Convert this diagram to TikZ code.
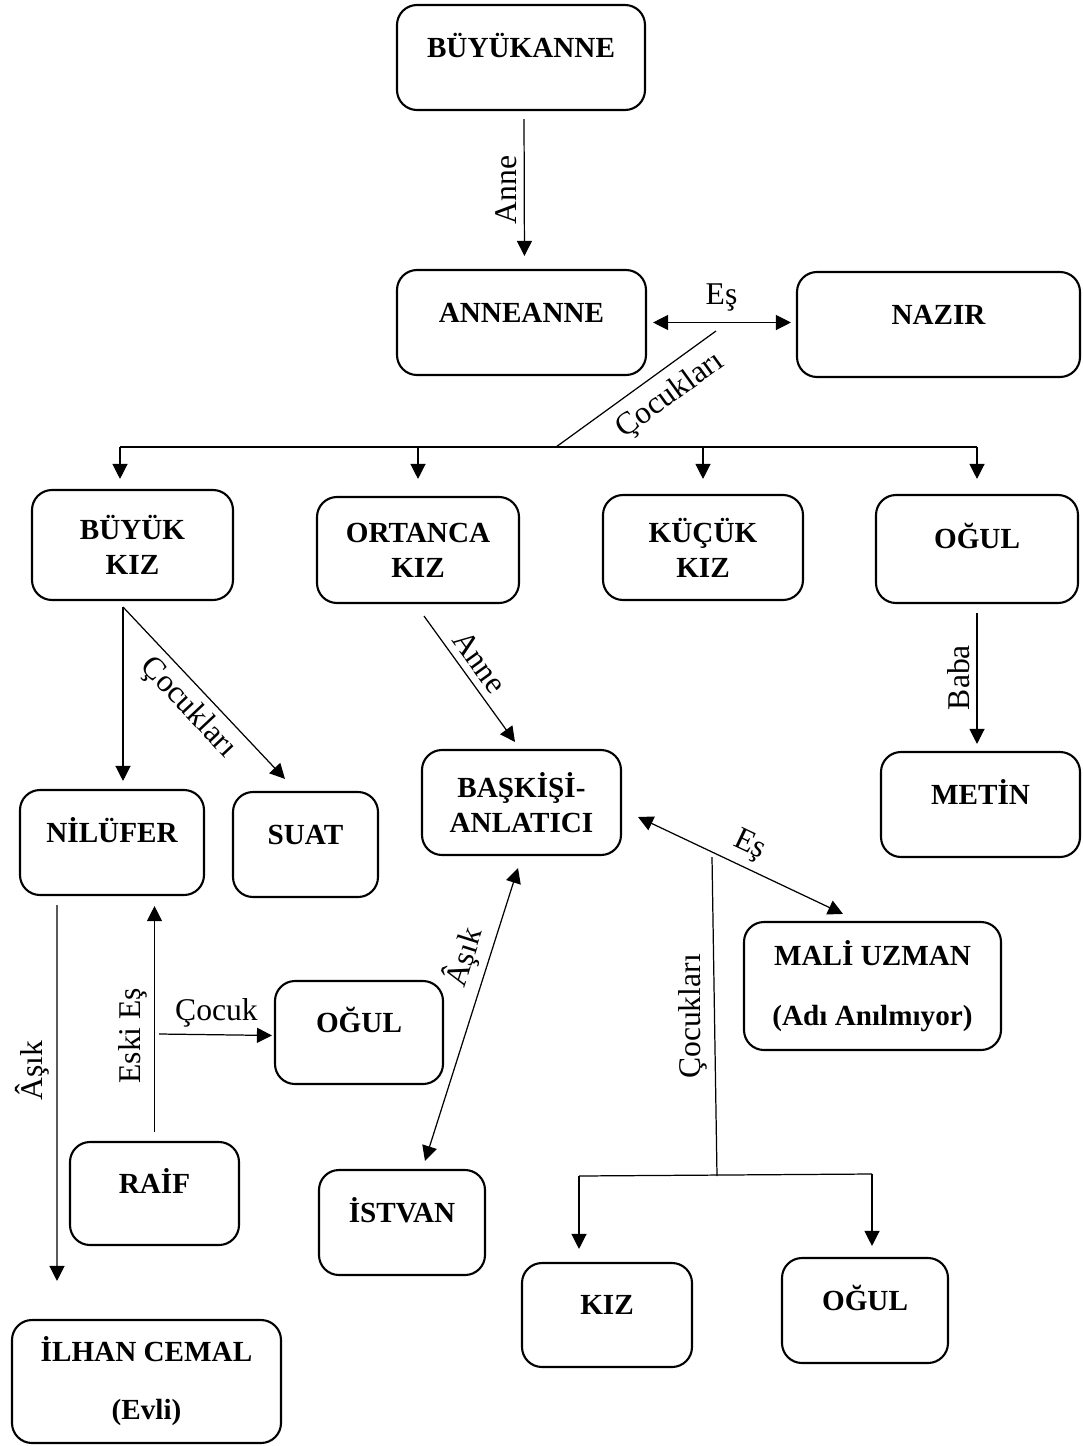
\documentclass[tikz,border=0pt]{standalone}
\usepackage{fontspec}
\setmainfont{Liberation Serif}
\usetikzlibrary{arrows.meta}

\begin{document}
\begin{tikzpicture}[
		box/.style={draw, line width=0.6pt, rounded corners=0.2cm, align=center, inner sep=0pt, font=\fontsize{8.3}{10}\selectfont\bfseries},
		top/.style={text height=1.9mm, text depth=2mm},
		rel/.style={line width=0.35pt},
		arr/.style={rel, -{Triangle[length=1.5mm,width=1.5mm]}},
		arrs/.style={rel, {Triangle[length=1.5mm,width=1.5mm]}-{Triangle[length=1.5mm,width=1.5mm]}},
		lbl/.style={font=\fontsize{9}{11}\selectfont, inner sep=2pt}]
		\useasboundingbox (0,0) rectangle (10.83,-14.46);
		
		\node[box, top, minimum width=2.48cm, minimum height=1.05cm] (1) at (5.21,-0.575) {BÜYÜKANNE};
		\node[box, top, minimum width=2.49cm, minimum height=1.05cm] (2) at (5.215,-3.225) {ANNEANNE};
		\node[box, top, minimum width=2.83cm, minimum height=1.05cm] (3) at (9.385,-3.245) {NAZIR};
		\node[box, minimum width=2.01cm, minimum height=1.10cm] (4) at (1.325,-5.45) {BÜYÜK\\KIZ};
		\node[box, minimum width=2.02cm, minimum height=1.06cm] (5) at (4.18,-5.50) {ORTANCA\\KIZ};
		\node[box, minimum width=2.00cm, minimum height=1.05cm] (6) at (7.03,-5.475) {KÜÇÜK\\KIZ};
		\node[box, top, minimum width=2.02cm, minimum height=1.08cm] (7) at (9.77,-5.49) {OĞUL};
		\node[box, top, minimum width=1.84cm, minimum height=1.05cm] (8) at (1.12,-8.425) {NİLÜFER};
		\node[box, top, minimum width=1.45cm, minimum height=1.05cm] (9) at (3.055,-8.445) {SUAT};
		\node[box, minimum width=1.99cm, minimum height=1.05cm] (10) at (5.215,-8.025) {BAŞKİŞİ-\\ANLATICI};
		\node[box, top, minimum width=1.99cm, minimum height=1.05cm] (11) at (9.805,-8.045) {METİN};
		\node[box, minimum width=2.57cm, minimum height=1.28cm] (12) at (8.725,-9.86) {MALİ UZMAN\\[2.47mm](Adı Anılmıyor)};
		\node[box, top, minimum width=1.68cm, minimum height=1.03cm] (13) at (3.59,-10.325) {OĞUL};
		\node[box, top, minimum width=1.69cm, minimum height=1.03cm] (14) at (1.545,-11.935) {RAİF};
		\node[box, top, minimum width=1.66cm, minimum height=1.05cm] (15) at (4.02,-12.225) {İSTVAN};
		\node[box, top, minimum width=1.70cm, minimum height=1.04cm] (16) at (6.07,-13.15) {KIZ};
		\node[box, top, minimum width=1.66cm, minimum height=1.05cm] (17) at (8.65,-13.105) {OĞUL};
		\node[box, minimum width=2.69cm, minimum height=1.23cm] (18) at (1.465,-13.815) {İLHAN CEMAL\\[2.27mm](Evli)};
		
		\coordinate (es1) at (7.16,-3.31);
		\coordinate (bus) at (5.56,-4.47);
		\coordinate (busL) at (1.20,-4.47);
		\coordinate (busR) at (9.77,-4.47);
		\coordinate (bk0) at (1.23,-6.07);
		\coordinate (es2) at (7.12,-8.57);
		\coordinate (bus2) at (7.17,-11.76);
		\coordinate (bus2L) at (5.79,-11.76);
		\coordinate (bus2R) at (8.72,-11.74);
		\coordinate (ch) at (1.59,-10.34);
		
		\draw[arr, shorten <=0.08cm, shorten >=0.13cm] ([xshift=0.03cm]1.south) to node[lbl, rotate=90, anchor=south] {Anne} ([xshift=0.03cm]2.north);
		\draw[arrs, shorten <=0.06cm, shorten >=0.05cm] (2.east) to node[lbl, above=1pt] {Eş} (2.east -| 3.west);
		\draw[rel] (bus) to node[lbl, sloped, below=1pt, pos=0.62] {Çocukları} (es1);
		\draw[rel] (busL) to (busR);
		\draw[arr, shorten >=0.1cm] (busL) to (busL |- 4.north);
		\draw[arr, shorten >=0.17cm] (5.north |- busL) to (5.north);
		\draw[arr, shorten >=0.15cm] (6.north |- busL) to (6.north);
		\draw[arr, shorten >=0.15cm] (busR) to (7.north);
		
		\draw[arr, shorten >=0.08cm] (bk0) to (bk0 |- 8.north);
		\draw[arr] (bk0) to node[lbl, sloped, below] {Çocukları} ([xshift=-0.205cm,yshift=0.12cm]9.north);
		\draw[arr] ([xshift=0.06cm,yshift=-0.12cm]5.south) to node[lbl, sloped, above, pos=0.45] {Anne} ([xshift=-0.065cm,yshift=0.07cm]10.north);
		\draw[arr, shorten <=0.09cm, shorten >=0.07cm] (7.south) to node[lbl, rotate=90, anchor=south] {Baba} (7.south |- 11.north);
		
		\draw[arrs] ([xshift=0.16cm,yshift=-0.145cm]10.east) to node[lbl, sloped, above] {Eş} ([xshift=-0.295cm,yshift=0.07cm]12.north);
		\draw[rel] (es2) to node[lbl, rotate=90, anchor=south] {Çocukları} (bus2);
		\draw[rel] (bus2L) to (bus2R);
		\draw[arr, shorten >=0.13cm] (bus2L) to (bus2L |- 16.north);
		\draw[arr, shorten >=0.11cm] (bus2R) to (bus2R |- 17.north);
		\draw[arrs] ([xshift=0.23cm,yshift=0.08cm]15.north) to node[lbl, sloped, above, pos=0.67] {Âşık} ([xshift=-0.035cm,yshift=-0.12cm]10.south);
		
		\draw[arr] ([xshift=-0.55cm,yshift=-0.09cm]8.south) to node[lbl, rotate=90, anchor=south, pos=0.44] {Âşık} ([xshift=-0.895cm,yshift=0.38cm]18.north);
		\draw[arr, shorten <=0.09cm, shorten >=0.1cm] (14.north) to node[lbl, rotate=90, anchor=south, pos=0.43] {Eski Eş} (14.north |- 8.south);
		\draw[arr, shorten >=0.02cm] (ch) to node[lbl, above] {Çocuk} ([yshift=-0.03cm]13.west);
		
	\end{tikzpicture}
\end{document}
